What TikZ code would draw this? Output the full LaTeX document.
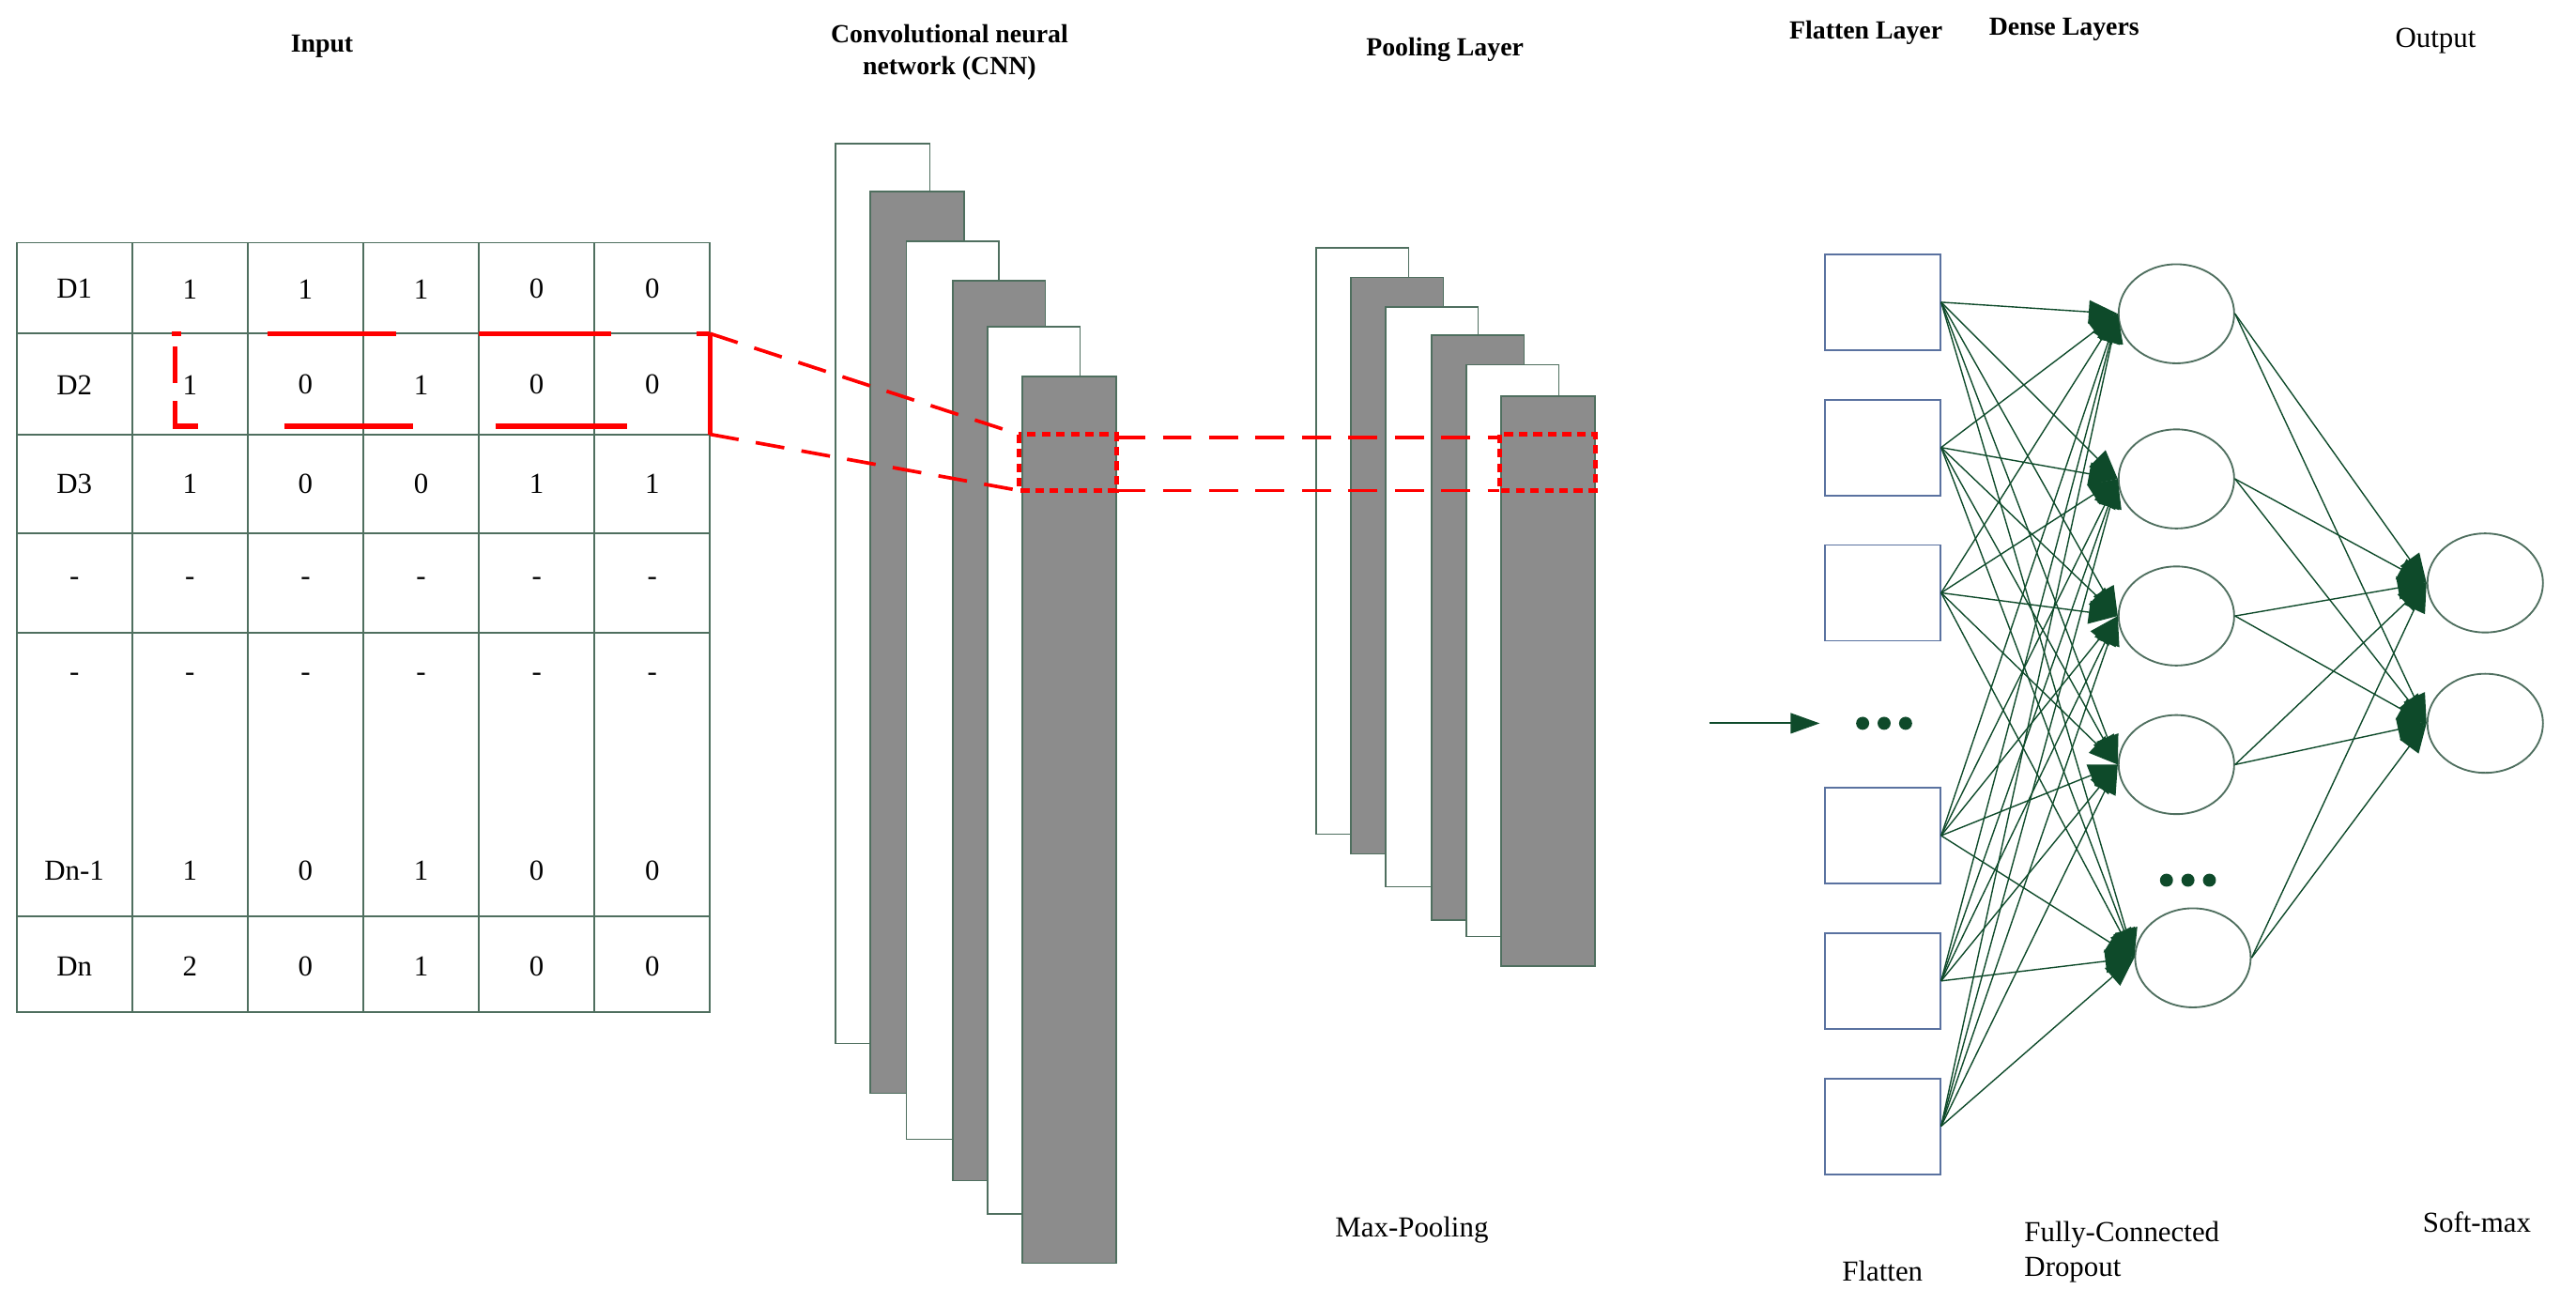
\documentclass[tikz,border=0pt]{standalone}
\usepackage{fontspec}
\setmainfont{Liberation Serif}
\usetikzlibrary{arrows.meta,shapes.geometric}
\definecolor{gl}{HTML}{4F6F5F}
\definecolor{ag}{HTML}{0E4A2A}
\definecolor{bx}{HTML}{5A72A0}
\definecolor{lg}{HTML}{8C8C8C}
\begin{document}
\begin{tikzpicture}[x=0.02cm,y=-0.02cm,
  ttl/.style={font=\bfseries\small},
  lbl/.style={font=\normalsize},
  cell/.style={font=\normalsize},
  wl/.style={draw=gl,fill=white,line width=0.5pt},
  gl2/.style={draw=gl,fill=lg,line width=0.5pt},
  red/.style={draw=red,line width=1.8pt},
  fb/.style={draw=bx,line width=0.6pt,minimum width=1.4cm,minimum height=1.16cm,inner sep=0},
  ne/.style={ellipse,draw=gl,line width=0.6pt,minimum width=1.4cm,minimum height=1.2cm,inner sep=0},
  dot/.style={circle,fill=ag,inner sep=0,minimum size=4.5pt},
  cn/.style={draw=gl,line width=0.45pt,-{Triangle[length=10pt,width=8pt]},ag}]
\useasboundingbox (0,0) rectangle (1560,790);
% titles
\node[ttl] (tin) at (195,28) {Input};
\node[ttl,align=center] (tcnn) at (575,32) {Convolutional neural\\network (CNN)};
\node[ttl] (tpool) at (875,30) {Pooling Layer};
\node[ttl] (tfl) at (1130,20) {Flatten Layer};
\node[ttl] (tds) at (1250,18) {Dense Layers};
\node[lbl] (tout) at (1475,25) {Output};
% table
\draw[gl,line width=0.6pt] (10,147) rectangle (430,613);
\foreach \x in {80,150,220,290,360} \draw[gl,line width=0.6pt] (\x,147) -- (\x,613);
\foreach \y in {202,263,323,383,555} \draw[gl,line width=0.6pt] (10,\y) -- (430,\y);
\foreach \r/\y/\a/\b/\c/\d/\e/\f in {1/175/D1/1/1/1/0/0,2/233/D2/1/0/1/0/0,3/293/D3/1/0/0/1/1,4/352/-/-/-/-/-/-,5/410/-/-/-/-/-/-,6/527/Dn-1/1/0/1/0/0,7/585/Dn/2/0/1/0/0}{
  \node[cell] (c\r a) at (45,\y) {\a};
  \node[cell] (c\r b) at (115,\y) {\b};
  \node[cell] (c\r c) at (185,\y) {\c};
  \node[cell] (c\r d) at (255,\y) {\d};
  \node[cell] (c\r e) at (325,\y) {\e};
  \node[cell] (c\r f) at (395,\y) {\f};
}
% red selection on table
\draw[red] (104,202) -- (110,202);
\draw[red] (162,202) -- (240,202);
\draw[red] (290,202) -- (370,202);
\draw[red] (422,202) -- (430,202);
\draw[red] (106,210) -- (106,232);
\draw[red] (106,243) -- (106,258) -- (120,258);
\draw[red] (172,258) -- (250,258);
\draw[red] (300,258) -- (380,258);
\draw[red] (430,202) -- (430,263);
% CNN layers
\draw[wl] (506,87) rectangle (563,632);
\draw[gl2] (527,116) rectangle (584,662);
\draw[wl] (549,146) rectangle (605,690);
\draw[gl2] (577,170) rectangle (633,715);
\draw[wl] (598,198) rectangle (654,735);
\draw[gl2] (619,228) rectangle (676,765);
\coordinate (tr) at (430,202); \coordinate (br) at (430,263);
\coordinate (k1) at (617,263); \coordinate (k2) at (617,297);
\coordinate (k3) at (676,265); \coordinate (k4) at (676,297);
\draw[red,line width=1.2pt,dash pattern=on 10pt off 6pt] (tr) -- (k1);
\draw[red,line width=1.2pt,dash pattern=on 10pt off 6pt] (br) -- (k2);
\draw[red,line width=1.6pt,dash pattern=on 3pt off 2pt] (617,263) rectangle (676,297);
% pooling layers
\draw[wl] (797,150) rectangle (853,505);
\draw[gl2] (818,168) rectangle (874,517);
\draw[wl] (839,186) rectangle (895,537);
\draw[gl2] (867,203) rectangle (923,557);
\draw[wl] (888,221) rectangle (944,567);
\draw[gl2] (909,240) rectangle (966,585);
\coordinate (p1) at (908,265); \coordinate (p2) at (908,297);
\draw[red,line width=1.2pt,dash pattern=on 10pt off 6pt] (k3) -- (p1);
\draw[red,line width=1.2pt,dash pattern=on 10pt off 6pt] (k4) -- (p2);
\draw[red,line width=1.6pt,dash pattern=on 3pt off 2pt] (908,263) rectangle (966,297);
% flatten
\foreach \i/\y in {1/183,2/271,3/359,4/506,5/594,6/682} \node[fb] (f\i) at (1140,\y) {};
\foreach \i/\x in {1/1128,2/1141,3/1154} \node[dot] (fd\i) at (\x,438) {};
\coordinate (ain) at (1035,438);
\coordinate (aend) at (1102,438);
\draw[gl,line width=0.6pt,-{Triangle[length=10pt,width=7pt]},ag] (ain) -- (aend);
% dense
\foreach \i/\x/\y in {1/1318/190,2/1318/290,3/1318/373,4/1318/463,5/1328/580} \node[ne] (d\i) at (\x,\y) {};
\foreach \i/\x in {1/1312,2/1325,3/1338} \node[dot] (dd\i) at (\x,533) {};
% output
\node[ne] (o1) at (1505,353) {};
\node[ne] (o2) at (1505,438) {};
% connections
\foreach \i in {1,...,6} \foreach \j in {1,...,5} \draw[cn] (f\i.east) -- (d\j.west);
\foreach \j in {1,...,5} \foreach \k in {1,2} \draw[cn] (d\j.east) -- (o\k.west);
% bottom labels
\node[lbl] (mp) at (855,745) {Max-Pooling};
\node[lbl] (fl) at (1140,770) {Flatten};
\node[lbl,align=left] (fc) at (1285,758) {Fully-Connected\\Dropout};
\node[lbl] (sm) at (1500,740) {Soft-max};
\end{tikzpicture}
\end{document}
